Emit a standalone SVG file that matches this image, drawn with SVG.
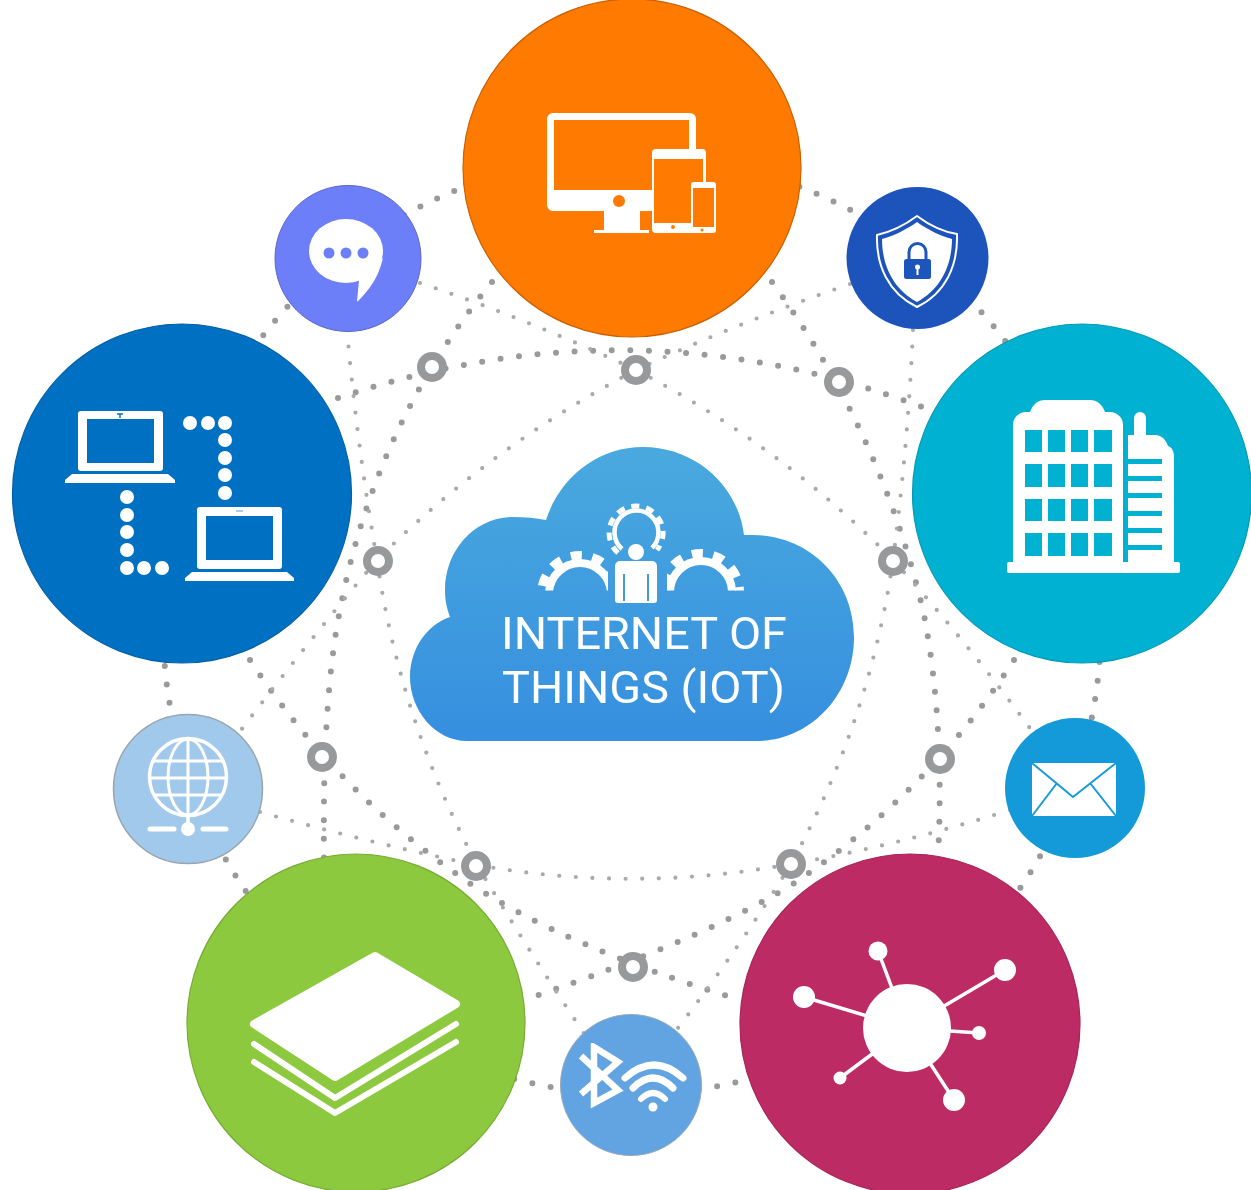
<svg xmlns="http://www.w3.org/2000/svg" width="1251" height="1190" viewBox="0 0 1251 1190">
<style>
.thick{fill:none;stroke:#999a9c;stroke-width:6;stroke-linecap:round;stroke-dasharray:0 18.6}
.thin{fill:none;stroke:#a9aaac;stroke-width:4.2;stroke-linecap:round;stroke-dasharray:0 16.6}
.joint{fill:#fff;stroke:#98999b;stroke-width:8}
.w{fill:#fff}
.ws{fill:none;stroke:#fff;stroke-linecap:round;stroke-linejoin:round}
.big{stroke-width:1.2}
.soft{filter:url(#soft)}
.label{font-family:Roboto,"Open Sans","Liberation Sans",sans-serif;font-size:44px;fill:#fff}
</style>
<defs>
<filter id="soft" x="-5%" y="-5%" width="110%" height="110%"><feGaussianBlur stdDeviation="0.6"/></filter>
<linearGradient id="cloudFill" x1="0" y1="0" x2="0" y2="1"><stop offset="0" stop-color="#4aa9de"/><stop offset="1" stop-color="#368fdf"/></linearGradient>
<clipPath id="gearL"><rect x="530" y="540" width="78" height="50.5"/></clipPath>
<clipPath id="gearR"><rect x="667" y="540" width="78" height="50.5"/></clipPath>
<clipPath id="globeClip"><circle cx="188" cy="777" r="38"/></clipPath>
</defs>
<rect width="1251" height="1190" fill="#fff"/>
<g id="connectors" class="soft">
<circle class="thick" cx="632" cy="625" r="469"/>
<path class="thick" d="M338,398Q640,296 935,412"/>
<path class="thick" d="M492,282Q375,425 340,610Q322,700 324,858"/>
<path class="thick" d="M772,282Q880,430 923,610Q945,720 938,858"/>
<path class="thick" d="M250,660Q335,790 465,880Q560,945 740,1000"/>
<path class="thick" d="M1014,660Q930,790 799,880Q715,935 524,1000"/>
<path class="thin" d="M636,370Q780,445 893,560"/>
<path class="thin" d="M636,370Q490,447 377,560"/>
<path class="thin" d="M893,560Q870,720 791,864"/>
<path class="thin" d="M377,560Q400,720 477,865"/>
<path class="thin" d="M477,865Q634,893 791,864"/>
<path class="thin" d="M420,283Q530,320 636,370"/>
<path class="thin" d="M347,330Q357,445 377,560"/>
<path class="thin" d="M850,284Q740,322 636,370"/>
<path class="thin" d="M913,330Q908,445 893,560"/>
<path class="thin" d="M893,560Q970,645 1040,742"/>
<path class="thin" d="M1010,810Q900,845 791,864"/>
<path class="thin" d="M232,742Q305,645 377,560"/>
<path class="thin" d="M260,812Q370,843 477,865"/>
<path class="thin" d="M477,865Q525,945 585,1035"/>
<path class="thin" d="M791,864Q745,940 675,1032"/>
</g>
<g id="joints" class="soft">
<circle id="joint-1" class="joint" cx="432" cy="367" r="11"/>
<circle id="joint-2" class="joint" cx="636" cy="370" r="11"/>
<circle id="joint-3" class="joint" cx="839" cy="382" r="11"/>
<circle id="joint-4" class="joint" cx="893" cy="561" r="11"/>
<circle id="joint-5" class="joint" cx="940" cy="759" r="11"/>
<circle id="joint-6" class="joint" cx="791" cy="864" r="11"/>
<circle id="joint-7" class="joint" cx="633" cy="967" r="11"/>
<circle id="joint-8" class="joint" cx="476" cy="866" r="11"/>
<circle id="joint-9" class="joint" cx="322" cy="757" r="11"/>
<circle id="joint-10" class="joint" cx="378" cy="561" r="11"/>
</g>
<g id="node-cloud">
<path fill="url(#cloudFill)" d="M467,741C435,741 410,710 410,677C410,648 428,624 450,617C446,606 445,598 445,590C445,550 475,517 513,517C525,517 536,518 546,520C560,477 598,447 643,447C695,447 738,485 744,535L753,535C810,535 854,580 854,637C854,695 810,741 757,741Z"/>
<g class="soft">
<g clip-path="url(#gearL)"><circle cx="580" cy="594" r="31" fill="none" stroke="#fff" stroke-width="8"/><circle cx="580" cy="594" r="38.5" fill="none" stroke="#fff" stroke-width="9" stroke-dasharray="11 10.5"/></g>
<g clip-path="url(#gearR)"><circle cx="701" cy="592" r="31" fill="none" stroke="#fff" stroke-width="8"/><circle cx="701" cy="592" r="38.5" fill="none" stroke="#fff" stroke-width="9" stroke-dasharray="11 10.5"/></g>
<path fill="none" stroke="#fff" stroke-width="4.5" d="M622,549A22,22 0 1 1 652,548"/>
<path fill="none" stroke="#fff" stroke-width="5" stroke-dasharray="8 7" d="M618,553A27,27 0 1 1 657,550"/>
<circle class="w" cx="636" cy="552" r="8"/>
<path class="w" d="M620,561H652a5,5 0 0 1 5,5V600a3,3 0 0 1 -3,3H618a3,3 0 0 1 -3,-3V566a5,5 0 0 1 5,-5Z"/>
<path stroke="#3f9cdf" stroke-width="2" d="M624,574V601M648,574V601"/>
<text class="label" x="501" y="648.500" textLength="286" lengthAdjust="spacingAndGlyphs">INTERNET OF</text>
<text class="label" x="502" y="702.500" textLength="283" lengthAdjust="spacingAndGlyphs">THINGS (IOT)</text>
</g>
</g>
<g id="node-devices">
<circle class="big" cx="632" cy="168" r="169" fill="#ff7a00" stroke="#c96100"/>
<g class="soft">
<path class="w" d="M553,113H690a6,6 0 0 1 6,6V149H652V211H553a6,6 0 0 1 -6,-6V119a6,6 0 0 1 6,-6Z"/>
<rect x="554" y="120" width="135" height="70" fill="#ff7a00"/>
<path class="w" d="M604,211H640V230H649V233H594V230H604Z"/>
<circle cx="619" cy="201" r="6" fill="#ff7a00"/>
<rect class="w" x="652" y="149" width="54" height="84" rx="4"/>
<rect x="654" y="159" width="49" height="64" fill="#ff7a00"/>
<circle cx="673" cy="227" r="2" fill="#ff7a00"/>
<rect class="w" x="691" y="182" width="25" height="51" rx="3"/>
<rect x="693" y="188" width="21" height="39" fill="#ff7a00"/>
<circle cx="702" cy="230" r="1.500" fill="#ff7a00"/>
</g>
</g>
<g id="node-chat">
<circle cx="348" cy="258.500" r="73" fill="#6c7ff8" stroke="#5a66c4"/>
<g class="soft">
<ellipse class="w" cx="346" cy="251" rx="37" ry="32"/>
<path class="w" d="M359,280L357,302C367,292 378,280 383,258Z"/>
<circle cx="329" cy="253" r="5.500" fill="#6c7ff8"/><circle cx="346" cy="253" r="5.500" fill="#6c7ff8"/><circle cx="363" cy="253" r="5.500" fill="#6c7ff8"/>
</g>
</g>
<g id="node-security">
<circle cx="917.500" cy="258" r="71" fill="#1c54bb"/>
<g class="soft">
<path class="ws" stroke-width="2" d="M917,216C905,225 890,232 877,235C876,265 888,293 917,307C946,293 958,265 957,234C944,232 929,225 917,216Z"/>
<path class="w" d="M917,222C906,230 893,236 882,239C882,265 893,289 917,302C941,289 952,265 952,239C941,236 928,230 917,222Z"/>
<rect x="904" y="259" width="27" height="20" rx="2.500" fill="#1c54bb"/>
<path fill="none" stroke="#1c54bb" stroke-width="3" d="M909,260V252a8.500,8.500 0 0 1 17,0V260"/>
<circle class="w" cx="917.500" cy="267" r="2.500"/><rect class="w" x="916.500" y="267" width="2" height="8"/>
</g>
</g>
<g id="node-building">
<circle class="big" cx="1082" cy="493.500" r="169.500" fill="#00b1d1" stroke="#009bb5"/>
<g class="soft">
<path class="w" d="M1013,562V425a13,13 0 0 1 13,-13H1030C1033,404 1038,400 1045,400H1090C1097,400 1102,404 1105,412H1110a13,13 0 0 1 13,13V562Z"/>
<rect class="w" x="1007" y="562" width="173" height="11" rx="2"/>
<path class="w" d="M1128,562V435H1134V418a6,6 0 0 1 12,0V435H1155C1162,435 1166,440 1168,446C1172,447 1174,452 1174,457V562Z"/>
<g fill="#00b1d1">
<rect x="1025" y="430" width="17" height="22"/><rect x="1048" y="430" width="17" height="22"/><rect x="1071" y="430" width="17" height="22"/><rect x="1094" y="430" width="18" height="22"/>
<rect x="1025" y="464" width="17" height="23"/><rect x="1048" y="464" width="17" height="23"/><rect x="1071" y="464" width="17" height="23"/><rect x="1094" y="464" width="18" height="23"/>
<rect x="1025" y="499" width="17" height="22"/><rect x="1048" y="499" width="17" height="22"/><rect x="1071" y="499" width="17" height="22"/><rect x="1094" y="499" width="18" height="22"/>
<rect x="1025" y="533" width="17" height="23"/><rect x="1048" y="533" width="17" height="23"/><rect x="1071" y="533" width="17" height="23"/><rect x="1094" y="533" width="18" height="23"/>
<rect x="1128" y="459" width="34" height="5"/><rect x="1128" y="476" width="34" height="5"/><rect x="1128" y="493" width="34" height="5"/><rect x="1128" y="511" width="34" height="5"/><rect x="1128" y="528" width="34" height="5"/><rect x="1128" y="545" width="34" height="5"/>
</g>
</g>
</g>
<g id="node-network-pc">
<circle class="big" cx="182" cy="493.500" r="169.500" fill="#0070c2" stroke="#005fa6"/>
<g class="soft">
<rect class="w" x="78" y="411" width="85" height="60" rx="3"/><rect x="87" y="419" width="67" height="44" fill="#0070c2"/>
<path class="w" d="M72,474H168L175,480V483H65V480Z"/>
<path stroke="#0070c2" stroke-width="1.500" d="M117,414H123M120,414V418"/>
<rect class="w" x="197" y="507" width="85" height="62" rx="3"/><rect x="206" y="516" width="67" height="44" fill="#0070c2"/>
<path class="w" d="M192,572H287L294,578V581H185V578Z"/>
<rect x="236" y="510" width="7" height="2" fill="#a9cdea"/>
<g class="w">
<circle cx="190" cy="423" r="7"/><circle cx="208" cy="423" r="7"/><circle cx="225" cy="423" r="7"/><circle cx="225" cy="440" r="7"/><circle cx="225" cy="458" r="7"/><circle cx="225" cy="475" r="7"/><circle cx="225" cy="493" r="7"/>
<circle cx="127" cy="497" r="7"/><circle cx="127" cy="515" r="7"/><circle cx="127" cy="532" r="7"/><circle cx="127" cy="550" r="7"/><circle cx="127" cy="568" r="7"/><circle cx="144" cy="568" r="7"/><circle cx="162" cy="568" r="7"/>
</g>
</g>
</g>
<g id="node-mail">
<circle cx="1075" cy="788" r="70" fill="#149ad8"/>
<g class="soft">
<rect class="w" x="1032" y="763" width="84" height="53"/>
<path fill="none" stroke="#149ad8" stroke-width="2" d="M1032,763L1073,797L1116,763M1032,816L1057,783M1116,816L1090,783"/>
</g>
</g>
<g id="node-hub">
<circle class="big" cx="910" cy="1024" r="170" fill="#bd2b64" stroke="#a82458"/>
<g class="soft">
<path class="ws" stroke-width="3.500" d="M907,1028L878,951M907,1028L1005,970M907,1028L804,997M907,1028L979,1033M907,1028L954,1100M907,1028L840,1078"/>
<circle class="w" cx="907" cy="1028" r="44"/>
<circle class="w" cx="878" cy="951" r="9.500"/><circle class="w" cx="1005" cy="970" r="11"/><circle class="w" cx="804" cy="997" r="11"/><circle class="w" cx="979" cy="1033" r="7"/><circle class="w" cx="954" cy="1100" r="11"/><circle class="w" cx="840" cy="1078" r="6.500"/>
</g>
</g>
<g id="node-layers">
<circle class="big" cx="356" cy="1023" r="169" fill="#8cc93f" stroke="#76ac33"/>
<g class="soft">
<path class="w" stroke="#fff" stroke-width="8" stroke-linejoin="round" d="M375,956L456,1004L335,1077L254,1024Z"/>
<path class="ws" stroke-width="6" d="M254,1044L335,1098L456,1024M254,1062L335,1113L456,1042"/>
</g>
</g>
<g id="node-wireless">
<circle cx="631" cy="1085" r="70.500" fill="#62a3e2" stroke="#9aa9b8"/>
<g class="soft">
<path fill="none" stroke="#fff" stroke-width="6.500" stroke-linejoin="miter" d="M581,1056L618,1090L594,1103V1047L618,1062L581,1094"/>
<path class="ws" stroke-width="7" d="M625,1078Q654,1052 683,1078M633,1088Q653,1068 673,1088"/>
<path class="ws" stroke-width="6" d="M641,1099Q653,1087 665,1099"/>
<circle class="w" cx="653" cy="1107" r="4.500"/>
</g>
</g>
<g id="node-globe">
<circle cx="188" cy="789" r="74.500" fill="#a1c9ec" stroke="#9aa5b0" stroke-width="1.500"/>
<g class="soft">
<circle cx="188" cy="777" r="38.500" fill="none" stroke="#fff" stroke-width="3.500"/>
<ellipse cx="188" cy="777" rx="20" ry="38" fill="none" stroke="#fff" stroke-width="3"/>
<path clip-path="url(#globeClip)" stroke="#fff" stroke-width="3" d="M188,739V815M148,761H228M148,778H228M148,795H228"/>
<path class="ws" stroke-width="3.500" d="M188,815V825"/>
<circle class="w" cx="188" cy="829" r="7"/>
<path class="ws" stroke-width="5" d="M150,829H174M203,829H226"/>
</g>
</g>
</svg>
